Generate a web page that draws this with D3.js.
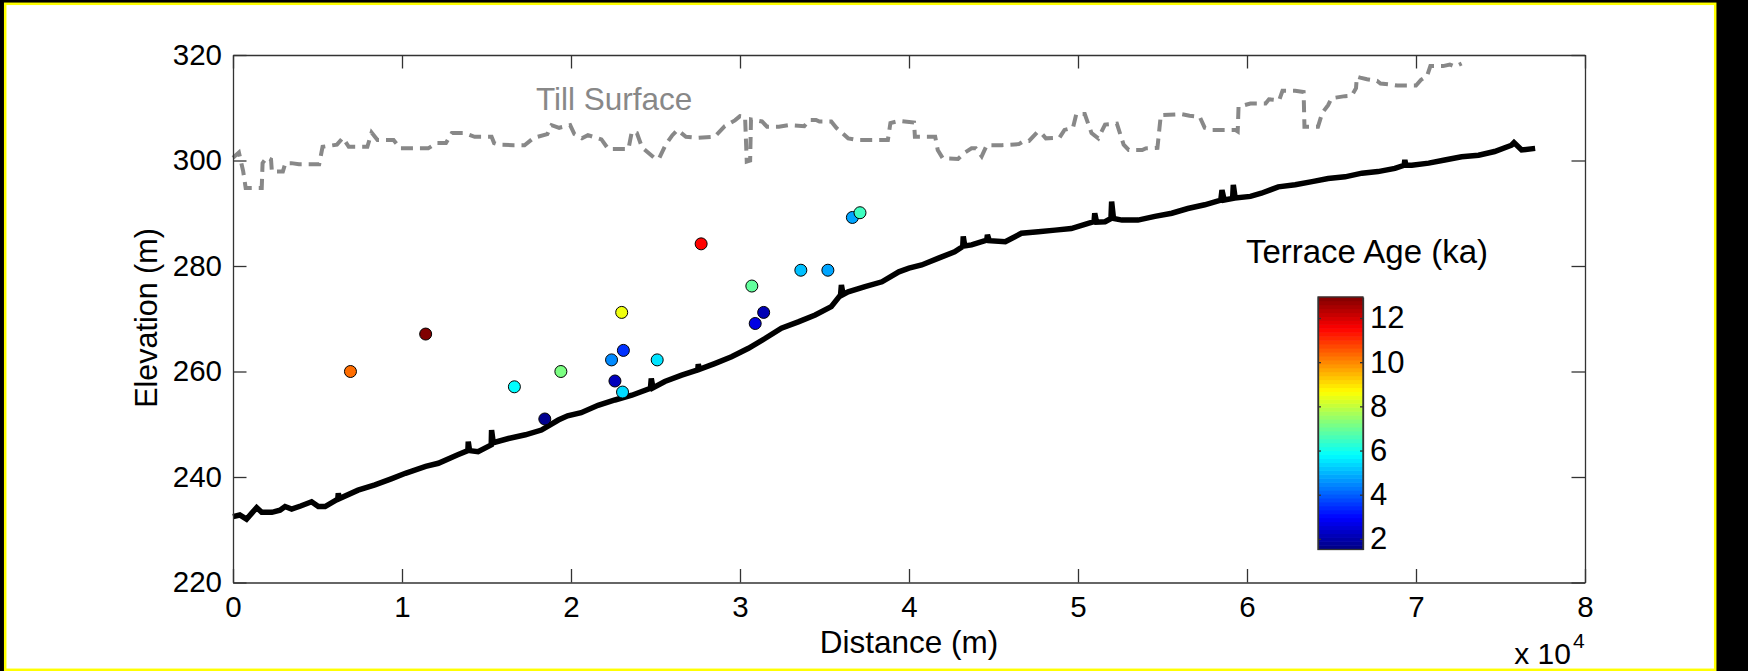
<!DOCTYPE html>
<html lang="en">
<head>
    <meta charset="UTF-8">
    <title>Terrace ages along the river profile</title>
    <script src="https://d3js.org/d3.v7.min.js"></script>
    <style>
        body {
            margin: 0;
            background: #000;
        }

        svg text {
            font-family: "Liberation Sans", Arial, sans-serif;
        }

        .tick text {
            font-size: 29.5px;
            fill: #000;
        }

        .tick line, .domain {
            stroke: #333;
            stroke-width: 1.3;
        }
    </style>
</head>
<body>
    <svg id="chart" width="1748" height="671"></svg>
    <script>
        // distance (m) / elevation (m)
        const riverProfile = [
            [0, 232.5], [400, 232.8], [800, 232.0], [1100, 233.1], [1400, 234.2], [1700, 233.3],
            [2300, 233.3], [2780, 233.7], [3080, 234.4], [3470, 233.9], [4000, 234.5], [4650, 235.3],
            [5050, 234.4], [5450, 234.4], [6200, 235.8],
            [6230, 236.9], [6300, 235.9], [7400, 237.5], [8400, 238.5], [9400, 239.7], [10200, 240.7],
            [11400, 242.0], [12150, 242.6], [13300, 244.2], [13900, 245.0], [13920, 246.7], [14000, 245.0],
            [14500, 244.8], [15280, 246.1], [15300, 248.9], [15400, 246.5], [16300, 247.3], [17300, 248.0],
            [18250, 248.9], [19250, 250.8], [19800, 251.6], [20600, 252.2], [21600, 253.6], [22600, 254.6],
            [23600, 255.5], [24700, 256.8], [24750, 258.7], [24850, 256.9], [25550, 258.1], [26550, 259.3],
            [27500, 260.3], [27530, 261.4], [27600, 260.4], [28500, 261.5], [29500, 262.8], [30500, 264.4],
            [31500, 266.3], [32450, 268.2], [33450, 269.4], [34450, 270.7], [35400, 272.3], [35950, 274.5],
            [36000, 276.4], [36100, 274.6], [36400, 275.1], [37400, 276.1], [38400, 277.0], [39400, 278.9],
            [40000, 279.6], [40750, 280.2], [41750, 281.5], [42700, 282.7], [43180, 283.7], [43210, 285.6],
            [43300, 283.8], [43700, 284.0], [44600, 284.9], [44640, 285.9], [44750, 284.8], [45700, 284.6],
            [46650, 286.2], [47650, 286.5], [48650, 286.8], [49600, 287.1], [50600, 288.1], [50950, 288.4],
            [50990, 290.0], [51100, 288.3], [51600, 288.4], [51950, 289.0], [51990, 292.2], [52100, 289.0],
            [52600, 288.7], [53550, 288.7], [54550, 289.4], [55550, 290.0], [56500, 290.9], [57500, 291.6],
            [58450, 292.5], [58520, 294.4], [58650, 292.5], [59150, 292.8], [59190, 295.4], [59300, 292.9],
            [60200, 293.2], [60850, 293.8], [61850, 295.0], [62850, 295.4], [63850, 296.0], [64800, 296.6],
            [65800, 296.9], [66800, 297.6], [67750, 297.9], [68750, 298.5], [69300, 299.1], [69340, 300.1],
            [69400, 299.1], [69750, 299.1], [70750, 299.5], [71700, 300.1], [72700, 300.7], [73700, 301.0],
            [74650, 301.7], [75650, 302.9], [75800, 303.4], [76250, 302.0], [77050, 302.3]
        ];

        const tillSurface = [
            [0, 300.5], [350, 301.5], [600, 298.0], [750, 294.8], [1700, 294.8], [1750, 299.5],
            [2000, 300.6], [2250, 300.2], [2300, 297.9], [2950, 297.9], [3100, 299.5], [3450, 299.5],
            [3900, 299.3], [5100, 299.3], [5300, 302.6], [6150, 303.0], [6500, 304.3], [6850, 302.6],
            [7950, 302.6], [8200, 305.3], [8550, 303.9], [9500, 303.9], [9900, 302.3], [11550, 302.3],
            [12050, 303.3], [12600, 303.3], [12950, 305.2], [13700, 305.2], [14300, 304.5], [15300, 304.5],
            [15450, 303.3], [15700, 303.0], [16600, 302.9], [17250, 302.9], [17800, 304.3], [18600, 305.0],
            [18850, 306.7], [19300, 306.2], [19950, 306.7], [20200, 305.0], [20650, 304.2], [21000, 304.8],
            [21800, 304.0], [22200, 302.2], [23400, 302.2], [23600, 305.5], [23900, 305.2], [24200, 302.5],
            [24900, 300.6], [25200, 300.3], [25600, 303.0], [26000, 304.8], [26300, 305.8], [26800, 304.5],
            [27500, 304.3], [28500, 304.5], [29100, 306.5], [29700, 307.6], [30000, 308.4], [30300, 308.3],
            [30400, 299.8], [30600, 300.0], [30650, 307.8], [31300, 307.4], [31600, 306.4], [32300, 306.4],
            [32900, 306.7], [33800, 306.5], [34100, 307.7], [34500, 307.7], [34700, 307.4], [35400, 307.4],
            [35700, 306.2], [36400, 304.2], [36900, 303.9], [38750, 303.9], [38900, 307.1], [39400, 307.5],
            [40300, 307.2], [40350, 304.5], [41550, 304.5], [41700, 302.0], [42000, 300.4], [42900, 300.3],
            [43300, 301.5], [43700, 302.3], [43950, 302.3], [44300, 300.8], [44600, 302.9], [45500, 302.9],
            [46500, 303.1], [46800, 303.7], [47100, 303.7], [47600, 305.4], [47800, 305.3], [48100, 304.2],
            [48900, 304.3], [49200, 305.8], [49700, 306.2], [49900, 308.8], [50400, 308.8], [50800, 305.2],
            [51200, 304.2], [51600, 306.8], [52300, 307.0], [52700, 303.0], [53000, 302.0], [53800, 302.0],
            [54000, 302.3], [54700, 302.4], [54900, 308.6], [56100, 308.8], [56600, 308.5], [57200, 308.3],
            [57500, 306.2], [57900, 305.8], [59300, 305.8], [59450, 305.5], [59500, 310.2], [60200, 310.8],
            [61100, 310.8], [61300, 311.6], [61900, 311.4], [62100, 313.2], [62850, 313.2], [63350, 313.0],
            [63400, 306.4], [64200, 306.4], [64450, 309.0], [64800, 310.5], [65000, 311.8], [65800, 312.2],
            [66200, 312.3], [66450, 313.7], [66500, 315.9], [66700, 315.7], [67100, 315.4], [67700, 315.1],
            [67900, 314.6], [68500, 314.4], [68900, 314.2], [70000, 314.2], [70300, 315.3], [70650, 316.0],
            [70850, 317.9], [71600, 317.9], [72000, 318.2], [72300, 317.8], [72700, 318.4]
        ];

        // terrace samples
        const terraceDist = [6950, 11400, 16650, 19400, 18450, 22400, 22600, 23050, 23100, 23000,
            25100, 27700, 30700, 30900, 31400, 33600, 35200, 36650, 37100];
        const terraceElev = [260.0, 267.1, 257.1, 260.0, 251.0, 262.2, 258.2, 256.1, 264.0, 271.2,
            262.2, 284.2, 276.2, 269.1, 271.2, 279.2, 279.2, 289.2, 290.1];
        const terraceAge = [10.3, 12.95, 5.8, 7.2, 1.7, 4.5, 2.2, 5.4, 3.5, 8.5,
            5.5, 11.5, 6.9, 2.65, 2.1, 5.1, 4.8, 4.8, 6.5];

        const xTicks = [0, 10000, 20000, 30000, 40000, 50000, 60000, 70000, 80000];
        const yTicks = [220, 240, 260, 280, 300, 320];
        const ageTicks = [2, 4, 6, 8, 10, 12];
        const ageRange = [1.52, 12.95];

        const svg = d3.select("#chart");

        // figure background with the yellow frame
        svg.append("rect")
            .attr("x", 5.2).attr("y", 3.8)
            .attr("width", 1710).attr("height", 666)
            .attr("fill", "#fff")
            .attr("stroke", "#ffff00")
            .attr("stroke-width", 2.5);

        const x = d3.scaleLinear().domain([0, 80000]).range([233, 1585]);
        const y = d3.scaleLinear().domain([220, 320]).range([582.5, 55]);

        // jet colormap
        const jetStops = [0, 0.125, 0.375, 0.625, 0.875, 1];
        const color = d3.scaleLinear()
            .domain(jetStops.map(t => ageRange[0] + t * (ageRange[1] - ageRange[0])))
            .range(["#000080", "#0000ff", "#00ffff", "#ffff00", "#ff0000", "#800000"])
            .clamp(true);

        const line = d3.line()
            .x(d => x(d[0]))
            .y(d => y(d[1]));

        svg.append("path")
            .datum(tillSurface)
            .attr("d", line)
            .attr("fill", "none")
            .attr("stroke", "#888")
            .attr("stroke-width", 4)
            .attr("stroke-dasharray", "12,7");

        svg.append("path")
            .datum(riverProfile)
            .attr("d", line)
            .attr("fill", "none")
            .attr("stroke", "#000")
            .attr("stroke-width", 5.5);

        svg.selectAll(".terrace")
            .data(terraceDist)
            .enter().append("circle")
            .attr("class", "terrace")
            .attr("cx", d => x(d))
            .attr("cy", (d, i) => y(terraceElev[i]))
            .attr("r", 6)
            .attr("fill", (d, i) => color(terraceAge[i]))
            .attr("stroke", "#000")
            .attr("stroke-width", 1);

        // axes, ticks inside, box on
        svg.append("g")
            .attr("transform", "translate(0,582.5)")
            .call(d3.axisBottom(x).tickValues(xTicks).tickSize(-13.5).tickSizeOuter(0)
                .tickPadding(14).tickFormat(d => d / 10000));

        svg.append("g")
            .attr("transform", "translate(0,55)")
            .call(d3.axisTop(x).tickValues(xTicks).tickSize(-13.5).tickSizeOuter(0).tickFormat(""));

        svg.append("g")
            .attr("transform", "translate(233,0)")
            .call(d3.axisLeft(y).tickValues(yTicks).tickSize(-13.5).tickSizeOuter(0).tickPadding(11));

        svg.append("g")
            .attr("transform", "translate(1585,0)")
            .call(d3.axisRight(y).tickValues(yTicks).tickSize(-13.5).tickSizeOuter(0).tickFormat(""));

        svg.append("text")
            .attr("x", 909).attr("y", 653)
            .attr("text-anchor", "middle")
            .attr("font-size", 31.5)
            .text("Distance (m)");

        svg.append("text")
            .attr("transform", "translate(157,318) rotate(-90)")
            .attr("text-anchor", "middle")
            .attr("font-size", 30.5)
            .text("Elevation (m)");

        // x 10^4 multiplier under the right end of the axis
        svg.append("text")
            .attr("x", 1571).attr("y", 664)
            .attr("text-anchor", "end")
            .attr("font-size", 30)
            .text("x 10");
        svg.append("text")
            .attr("x", 1573).attr("y", 648)
            .attr("font-size", 21)
            .text("4");

        svg.append("text")
            .attr("x", 536).attr("y", 110)
            .attr("font-size", 31.5)
            .attr("fill", "#888")
            .text("Till Surface");

        // colorbar
        const cb = { left: 1318, right: 1363 };
        const c = d3.scaleLinear().domain(ageRange).range([549.5, 297]);
        const bands = d3.range(64).map(i => ageRange[0] + (i + 0.5) * (ageRange[1] - ageRange[0]) / 64);
        const bandH = (c.range()[0] - c.range()[1]) / 64;

        svg.append("g").selectAll("rect")
            .data(bands)
            .enter().append("rect")
            .attr("x", cb.left)
            .attr("width", cb.right - cb.left)
            .attr("y", d => c(d) - bandH / 2 - 0.3)
            .attr("height", bandH + 0.6)
            .attr("fill", d => color(d));

        svg.append("rect")
            .attr("x", cb.left).attr("y", 297)
            .attr("width", cb.right - cb.left).attr("height", 252.5)
            .attr("fill", "none")
            .attr("stroke", "#333")
            .attr("stroke-width", 1.3);

        const cbAxis = svg.append("g")
            .attr("transform", `translate(${cb.right},0)`)
            .call(d3.axisRight(c).tickValues(ageTicks).tickSize(-3).tickSizeOuter(0).tickPadding(7));
        cbAxis.selectAll(".tick text").style("font-size", "31px");

        svg.append("g")
            .attr("transform", `translate(${cb.left},0)`)
            .call(d3.axisLeft(c).tickValues(ageTicks).tickSize(-3).tickSizeOuter(0).tickFormat(""));

        svg.append("text")
            .attr("x", 1367).attr("y", 263)
            .attr("text-anchor", "middle")
            .attr("font-size", 33)
            .text("Terrace Age (ka)");
    </script>
</body>
</html>
